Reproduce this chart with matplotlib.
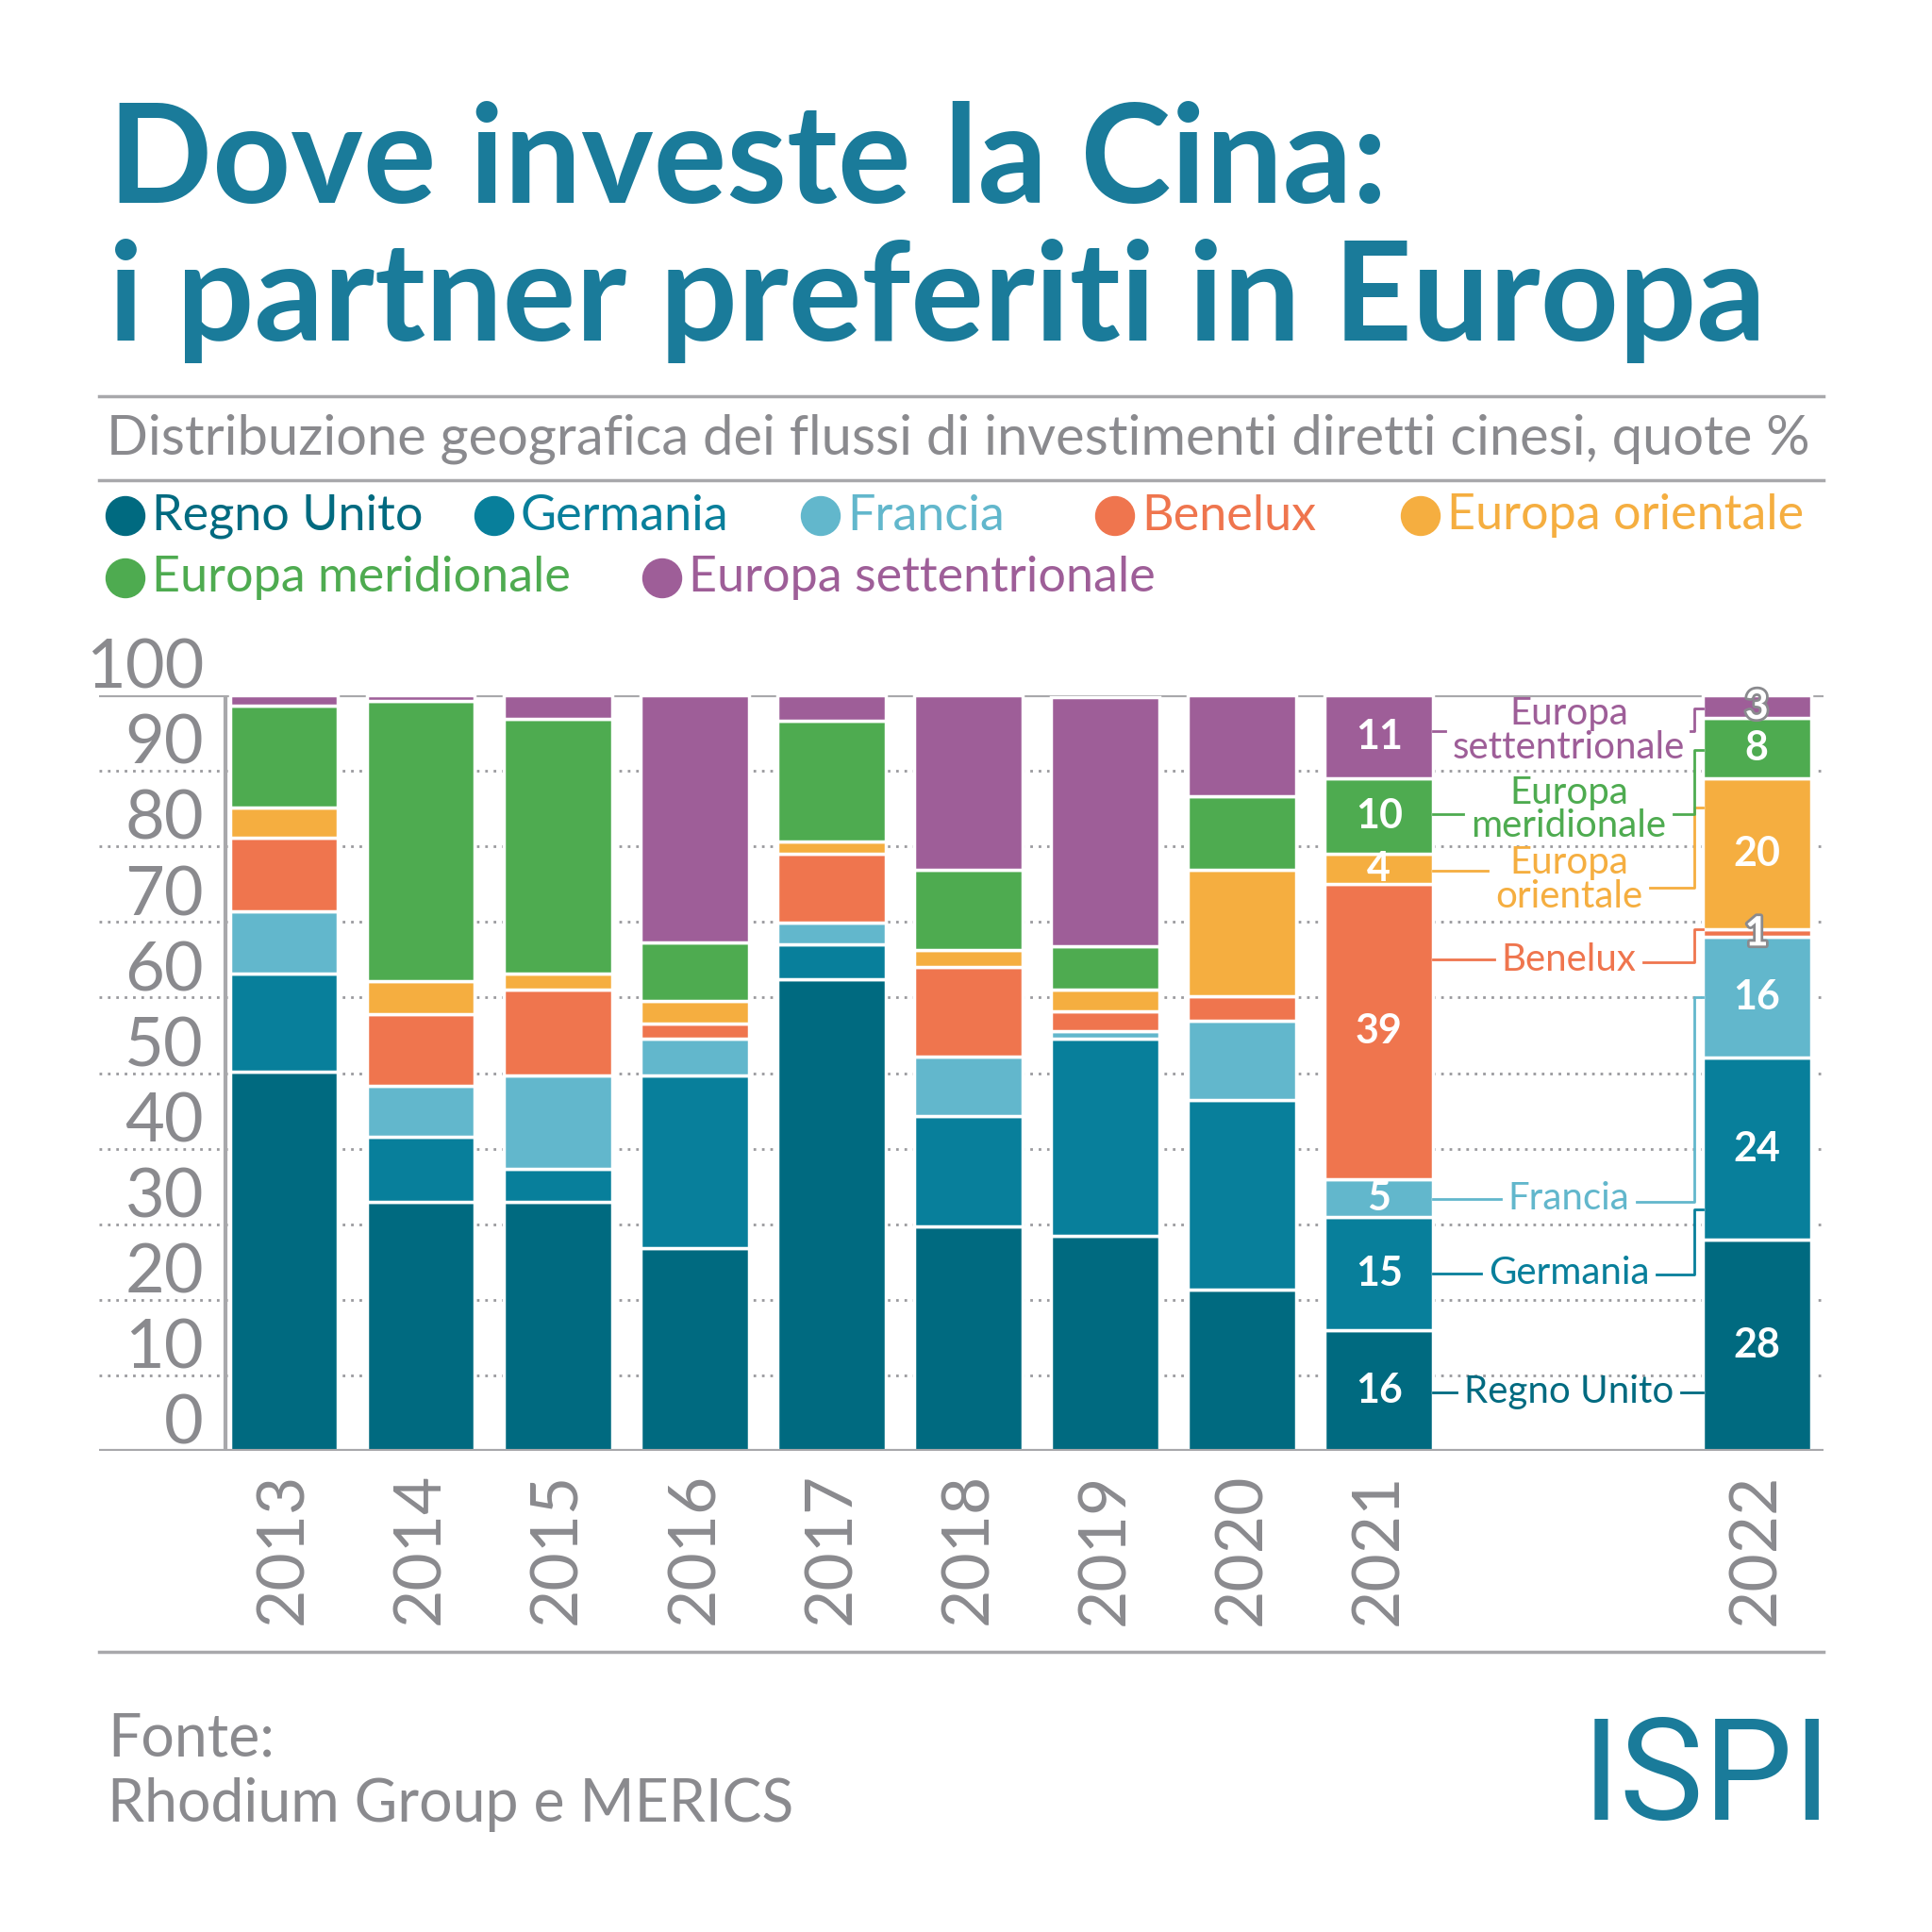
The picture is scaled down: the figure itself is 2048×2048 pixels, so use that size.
import matplotlib
matplotlib.use("Agg")
import matplotlib.pyplot as plt
from matplotlib.patches import Circle
import matplotlib.patheffects as pe

# --- data (quote %) ---
years = ['2013', '2014', '2015', '2016', '2017', '2018', '2019', '2020', '2021', '2022']
regno_unito = [50.2, 32.9, 32.9, 26.8, 62.4, 29.7, 28.5, 21.3, 16, 28]
germania = [13.0, 8.7, 4.4, 22.9, 4.7, 14.6, 26.1, 25.1, 15, 24]
francia = [8.2, 6.7, 12.4, 4.9, 2.8, 7.9, 1.0, 10.5, 5, 16]
benelux = [9.7, 9.5, 11.4, 2.0, 9.1, 11.9, 2.6, 3.3, 39, 1]
europa_orientale = [4.0, 4.4, 2.1, 3.0, 1.7, 2.2, 2.9, 16.7, 4, 20]
europa_meridionale = [13.5, 37.1, 33.7, 7.7, 15.9, 10.6, 5.7, 9.8, 10, 8]
europa_settentrionale = [1.4, 0.7, 3.1, 32.7, 3.4, 23.1, 33.0, 13.3, 11, 3]

series_names = ['Regno Unito', 'Germania', 'Francia', 'Benelux',
                'Europa orientale', 'Europa meridionale', 'Europa settentrionale']
series = [regno_unito, germania, francia, benelux,
          europa_orientale, europa_meridionale, europa_settentrionale]
colors = ['#006a80', '#087f9b', '#62b7cc', '#ef754e', '#f5ae40', '#4eab50', '#9e5e98']

TITLE = '#1a7b9a'
GREY = '#8a8a8e'
RULE = '#a8a8ab'
FONT = 'Lato'

fig = plt.figure(figsize=(20.48, 20.48), dpi=100)
W = 2048.0


def fx(px):
    return px / W


def fy(py):
    return 1 - py / W


renderer = fig.canvas.get_renderer()


def fit_width(t, target):
    # scale a text's font size so it spans the target width in pixels
    w = t.get_window_extent(renderer).width
    t.set_fontsize(t.get_fontsize() * target / w)


# --- header ---
t1 = fig.text(fx(115), fy(215), 'Dove investe la Cina:', color=TITLE, family=FONT,
              weight='bold', fontsize=100, va='baseline')
t2 = fig.text(fx(115), fy(361), 'i partner preferiti in Europa', color=TITLE, family=FONT,
              weight='bold', fontsize=100, va='baseline')
fit_width(t2, 1755)
t1.set_fontsize(t2.get_fontsize())

fig.add_artist(plt.Line2D([fx(105), fx(1933)], [fy(420), fy(420)], color=RULE, lw=2.5))
sub = fig.text(fx(113), fy(465), 'Distribuzione geografica dei flussi di investimenti diretti cinesi, quote %',
               color=GREY, family=FONT, fontsize=40, va='center')
fit_width(sub, 1805)
fig.add_artist(plt.Line2D([fx(105), fx(1933)], [fy(509), fy(509)], color=RULE, lw=2.5))

# legend
leg_pos = [(133, 547), (524, 547), (870, 547), (1182, 547), (1506, 547), (133, 613), (702, 613)]
for (cx, cy), name, c in zip(leg_pos, series_names, colors):
    fig.add_artist(Circle((fx(cx), fy(cy)), fx(20.5), color=c, transform=fig.transFigure))
    fig.text(fx(cx + 28), fy(cy), name, color=c, family=FONT, fontsize=37.5, va='center')

# --- chart ---
x_pos = list(range(9)) + [10.76]
bar_w = 0.79
ax = fig.add_axes([fx(105), fy(1538), fx(1933 - 105), fx(1538 - 737)])
ax.set_xlim(-1.351, 11.248)
ax.set_ylim(0, 100)
ax.axis('off')

ax.hlines(range(10, 100, 10), -1.351, 11.248, colors='#9a9a9e', linestyles=(0, (1, 2.2)),
          lw=2, zorder=0)
ax.axhline(0, color=RULE, lw=3, zorder=3)
ax.axhline(100, color=RULE, lw=3, zorder=0)
ax.plot([-0.427, -0.427], [0, 100], color=RULE, lw=3, zorder=0)

bottom = [0.0] * len(years)
for vals, c in zip(series, colors):
    ax.bar(x_pos, vals, bar_w, bottom=bottom, color=c, edgecolor='white', lw=2.5, zorder=2)
    bottom = [b + v for b, v in zip(bottom, vals)]

for v in range(0, 101, 10):
    ax.text(-0.586, v + 0.9, str(v), ha='right', va='baseline', color=GREY, family=FONT,
            fontsize=52)

for xp, y in zip(x_pos, years):
    ax.text(xp, -2.9, y, rotation=90, ha='center', va='top', color=GREY, family=FONT,
            fontsize=50)

# value labels for 2021 and 2022
for i in (8, 9):
    base = 0
    for vals in series:
        v = vals[i]
        t = ax.text(x_pos[i], base + v / 2, str(int(round(v))), ha='center', va='center',
                    color='white', family=FONT, weight='bold', fontsize=31, zorder=4)
        if v < 5 and i == 9:
            t.set_path_effects([pe.withStroke(linewidth=4, foreground='#8a8a8e')])
        base += v

# annotation labels between 2021 and 2022
ann_text = ['Regno Unito', 'Germania', 'Francia', 'Benelux',
            'Europa\norientale', 'Europa\nmeridionale', 'Europa\nsettentrionale']
ann_y = [7.8, 23.5, 33.4, 65.0, 75.6, 84.9, 95.3]
line_left_y = [7.8, 23.5, 33.3, 65.0, 76.8, 84.3, 95.2]
line_right_y = [7.8, 23.3, 33.0, 64.7, 74.5, 84.3, 95.2]
target_y = [7.8, 32.0, 60.0, 69.1, 85.1, 92.8, 98.3]
x_lab = 9.387
x_vert = 10.303
x_bar22 = x_pos[9] - bar_w / 2
x_bar21 = x_pos[8] + bar_w / 2

labels = []
for txt, y, c in zip(ann_text, ann_y, colors):
    labels.append(ax.text(x_lab, y, txt, ha='center', va='center', color=c, family=FONT,
                          fontsize=29, linespacing=0.95, zorder=4))

inv = ax.transData.inverted()
gap = 8
for t, yl, yr, yt, c in zip(labels, line_left_y, line_right_y, target_y, colors):
    bb = t.get_window_extent(renderer)
    xl = inv.transform((bb.x0 - gap, 0))[0]
    xr = min(inv.transform((bb.x1 + gap, 0))[0], x_vert - 0.03)
    ax.plot([x_bar21, xl], [yl, yl], color=c, lw=2, zorder=4)
    ax.plot([xr, x_vert, x_vert, x_bar22], [yr, yr, yt, yt], color=c, lw=2, zorder=4)

# --- footer ---
fig.add_artist(plt.Line2D([fx(105), fx(1933)], [fy(1751), fy(1751)], color=RULE, lw=2.5))
fig.text(fx(114), fy(1861), 'Fonte:', color=GREY, family=FONT,
         fontsize=45, va='baseline')
fig.text(fx(114), fy(1931), 'Rhodium Group e MERICS', color=GREY, family=FONT,
         fontsize=45, va='baseline')
fig.text(fx(1942), fy(1929), 'ISPI', color=TITLE, family='Roboto',
         fontsize=108, ha='right', va='baseline')

fig.savefig('out.png', dpi=100, facecolor='white')
